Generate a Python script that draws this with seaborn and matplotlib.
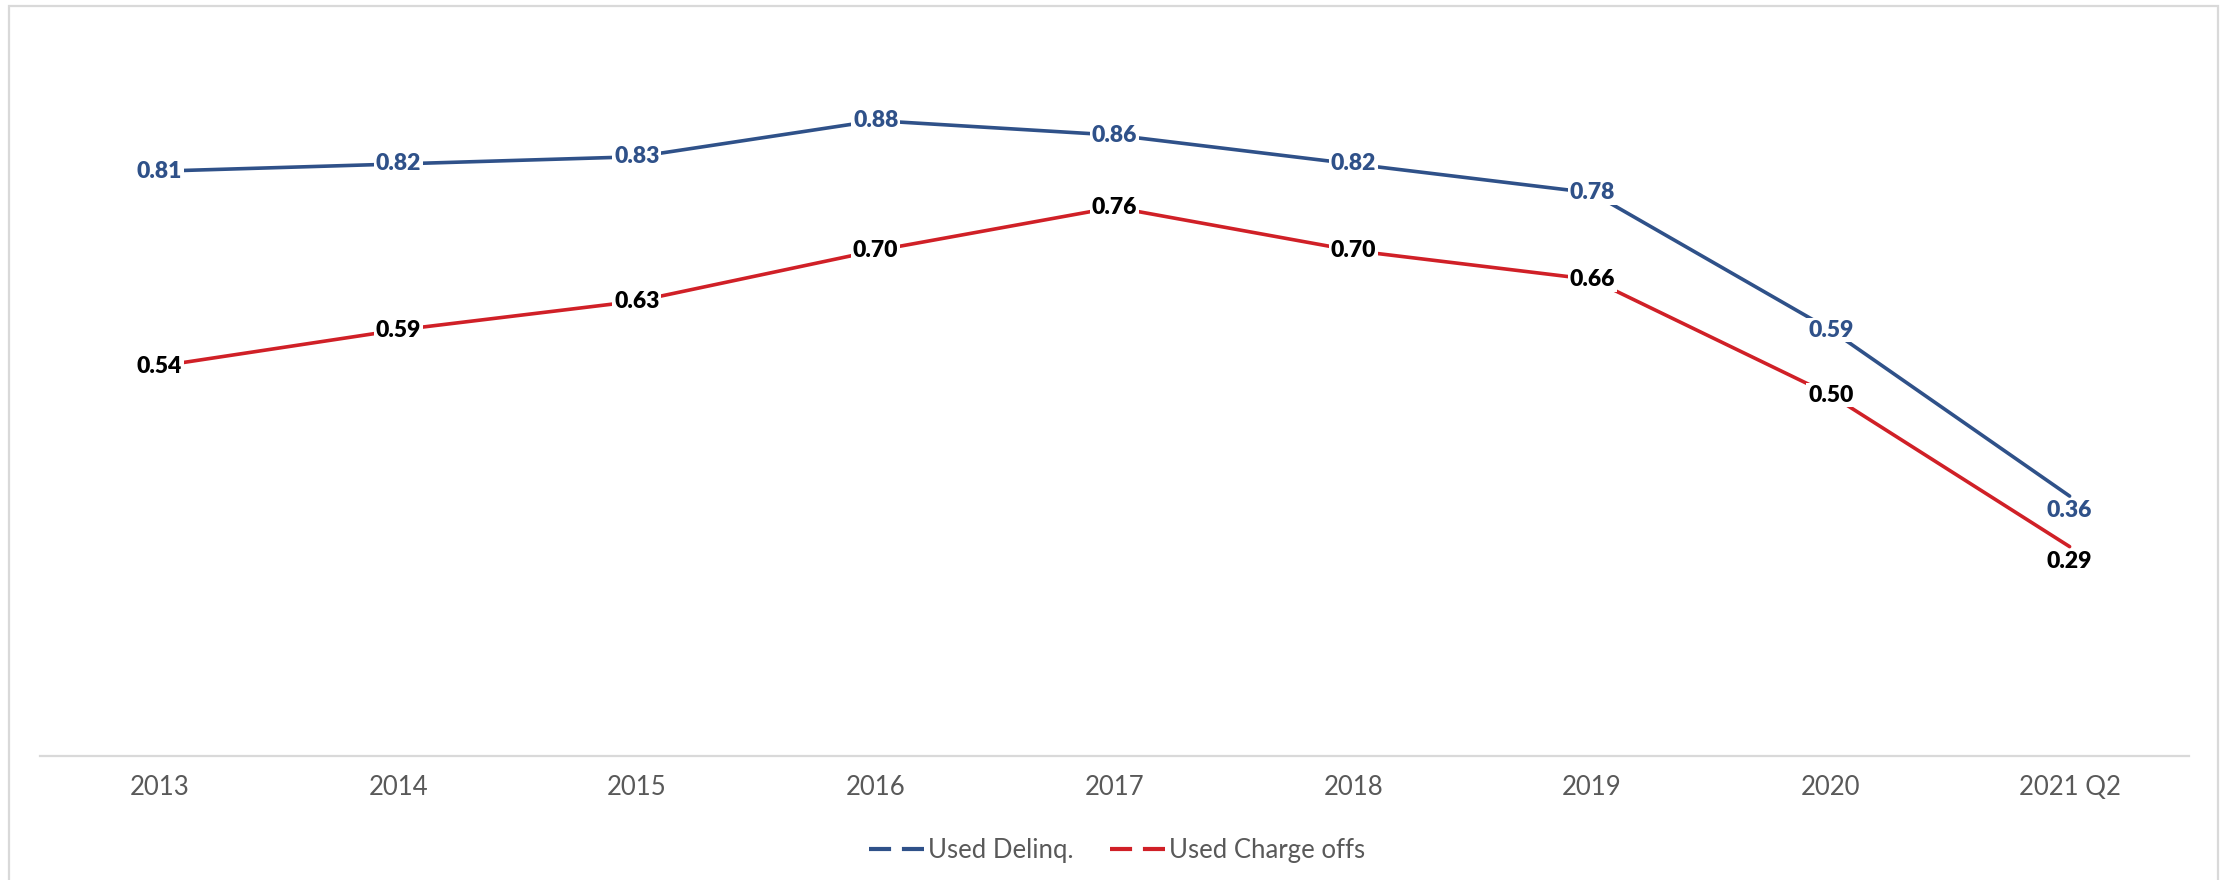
import matplotlib
matplotlib.use("Agg")
import matplotlib.pyplot as plt
from matplotlib.lines import Line2D
from matplotlib.patches import Rectangle
import seaborn as sns
import pandas as pd

categories = ["2013", "2014", "2015", "2016", "2017", "2018", "2019", "2020", "2021 Q2"]
used_delinq = [0.81, 0.82, 0.83, 0.88, 0.86, 0.82, 0.78, 0.59, 0.36]
used_charge_offs = [0.54, 0.59, 0.63, 0.70, 0.76, 0.70, 0.66, 0.50, 0.29]
series_names = ["Used Delinq.", "Used Charge offs"]

BLUE = "#2F5189"
RED = "#D02027"
GRAY_TXT = "#595959"
GRAY_LINE = "#D9D9D9"

sns.set_theme(style="white")
plt.rcParams["font.family"] = ["Lato", "DejaVu Sans"]

df = pd.DataFrame({
    "Year": categories * 2,
    "value": used_delinq + used_charge_offs,
    "series": [series_names[0]] * len(categories) + [series_names[1]] * len(categories),
})

fig = plt.figure(figsize=(22.31, 8.80), dpi=100)
ax = fig.add_axes([40 / 2231, 1 - 756 / 880, (2189 - 40) / 2231, (756 - 34) / 880])

sns.lineplot(data=df, x="Year", y="value", hue="series", palette=[BLUE, RED],
             sort=False, linewidth=2.6, ax=ax, legend=False)

ax.set_xlim(-0.5, len(categories) - 0.5)
ax.set_ylim(0, 1.0)
ax.set_xlabel("")
ax.set_ylabel("")
ax.set_yticks([])
ax.set_xticks(range(len(categories)))
ax.set_xticklabels(categories, fontsize=18.5, color=GRAY_TXT)
ax.tick_params(axis="x", length=0, pad=14)
for s in ["top", "right", "left"]:
    ax.spines[s].set_visible(False)
ax.spines["bottom"].set_color(GRAY_LINE)
ax.spines["bottom"].set_linewidth(1.6)
ax.grid(False)

bbox = dict(boxstyle="square,pad=0.08", facecolor="white", edgecolor="none")
last = len(categories) - 1
for vals, col in [(used_delinq, BLUE), (used_charge_offs, "black")]:
    for i, v in enumerate(vals):
        if i == last:
            ax.annotate(f"{v:.2f}", (i, v), xytext=(0, -3), textcoords="offset points",
                        ha="center", va="top", fontsize=16.5, fontweight="heavy",
                        color=col, bbox=bbox, zorder=5)
        else:
            ax.annotate(f"{v:.2f}", (i, v), ha="center", va="center",
                        fontsize=16.5, fontweight="heavy", color=col, bbox=bbox, zorder=5)

handles = [Line2D([0], [0], color=BLUE, linewidth=3, linestyle=(0, (5.3, 2.6))),
           Line2D([0], [0], color=RED, linewidth=3, linestyle=(0, (5.3, 2.6)))]
leg = fig.legend(handles, series_names, loc="center", bbox_to_anchor=(0.5007, 1 - 850 / 880),
                 ncol=2, frameon=False, fontsize=18.5, handlelength=2.14,
                 handletextpad=0.15, columnspacing=1.45)
for t in leg.get_texts():
    t.set_color(GRAY_TXT)

border = Rectangle((9 / 2231, -0.05), (2218 - 9) / 2231, 1 - 6 / 880 + 0.05,
                   transform=fig.transFigure, fill=False, edgecolor=GRAY_LINE, linewidth=1.6)
fig.patches.append(border)

fig.savefig("out.png", dpi=100)
